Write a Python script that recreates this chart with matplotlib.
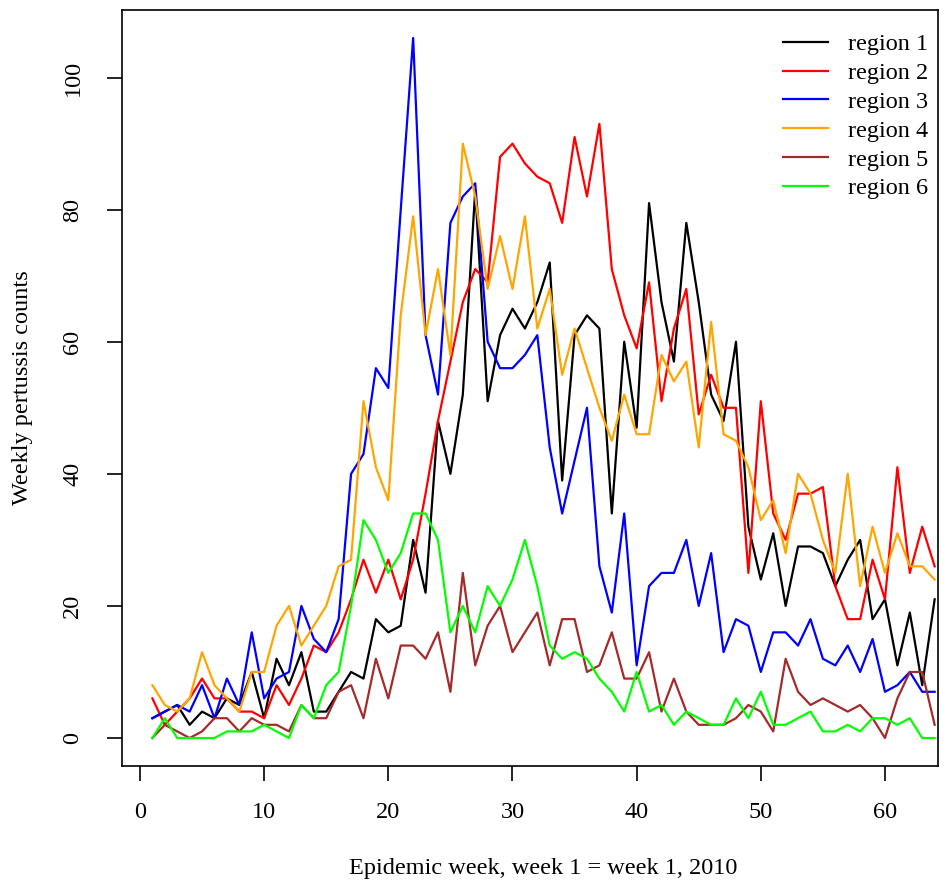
import numpy as np
import matplotlib
matplotlib.use("Agg")
import matplotlib.pyplot as plt

plt.rcParams['font.family'] = ['Liberation Serif', 'DejaVu Serif']

weeks = np.arange(1, 65)

region1 = [3, 4, 5, 2, 4, 3, 6, 5, 10, 3,
           12, 8, 13, 4, 4, 7, 10, 9, 18, 16,
           17, 30, 22, 48, 40, 52, 83, 51, 61, 65,
           62, 66, 72, 39, 61, 64, 62, 34, 60, 47,
           81, 66, 57, 78, 66, 52, 48, 60, 32, 24,
           31, 20, 29, 29, 28, 23, 27, 30, 18, 21,
           11, 19, 8, 21]
region2 = [6, 2, 4, 6, 9, 6, 6, 4, 4, 3,
           8, 5, 9, 14, 13, 16, 21, 27, 22, 27,
           21, 27, 37, 48, 57, 66, 71, 69, 88, 90,
           87, 85, 84, 78, 91, 82, 93, 71, 64, 59,
           69, 51, 62, 68, 49, 55, 50, 50, 25, 51,
           34, 30, 37, 37, 38, 23, 18, 18, 27, 21,
           41, 25, 32, 26]
region3 = [3, 4, 5, 4, 8, 3, 9, 5, 16, 6,
           9, 10, 20, 15, 13, 18, 40, 43, 56, 53,
           80, 106, 61, 52, 78, 82, 84, 60, 56, 56,
           58, 61, 44, 34, 42, 50, 26, 19, 34, 11,
           23, 25, 25, 30, 20, 28, 13, 18, 17, 10,
           16, 16, 14, 18, 12, 11, 14, 10, 15, 7,
           8, 10, 7, 7]
region4 = [8, 5, 4, 6, 13, 8, 6, 4, 10, 10,
           17, 20, 14, 17, 20, 26, 27, 51, 41, 36,
           64, 79, 61, 71, 58, 90, 82, 68, 76, 68,
           79, 62, 68, 55, 62, 56, 50, 45, 52, 46,
           46, 58, 54, 57, 44, 63, 46, 45, 41, 33,
           36, 28, 40, 37, 30, 25, 40, 23, 32, 25,
           31, 26, 26, 24]
region5 = [0, 2, 1, 0, 1, 3, 3, 1, 3, 2,
           2, 1, 5, 3, 3, 7, 8, 3, 12, 6,
           14, 14, 12, 16, 7, 25, 11, 17, 20, 13,
           16, 19, 11, 18, 18, 10, 11, 16, 9, 9,
           13, 4, 9, 4, 2, 2, 2, 3, 5, 4,
           1, 12, 7, 5, 6, 5, 4, 5, 3, 0,
           6, 10, 10, 2]
region6 = [0, 3, 0, 0, 0, 0, 1, 1, 1, 2,
           1, 0, 5, 3, 8, 10, 20, 33, 30, 25,
           28, 34, 34, 30, 16, 20, 16, 23, 20, 24,
           30, 23, 14, 12, 13, 12, 9, 7, 4, 10,
           4, 5, 2, 4, 3, 2, 2, 6, 3, 7,
           2, 2, 3, 4, 1, 1, 2, 1, 3, 3,
           2, 3, 0, 0]

labels = ['region 1', 'region 2', 'region 3', 'region 4', 'region 5', 'region 6']
colors = ['black', '#FF0000', '#0000FF', '#FFA500', '#A52A2A', '#00FF00']
series = [region1, region2, region3, region4, region5, region6]

fig = plt.figure(figsize=(9.53, 8.82), dpi=100)
ax = fig.add_axes([0.128, 0.1315, 0.856, 0.8572])

for s, c, lab in zip(series, colors, labels):
    ax.plot(weeks, s, color=c, lw=1.6, label=lab)

ax.set_xlim(-1.45, 64.25)
ax.set_ylim(-4.24, 110.24)
ax.set_xticks([0, 10, 20, 30, 40, 50, 60])
ax.set_yticks([0, 20, 40, 60, 80, 100])
ax.tick_params(direction='out', length=10.8, width=1.2, labelsize=17.5)
ax.tick_params(axis='x', pad=15)
ax.tick_params(axis='y', pad=17)
for lbl in ax.get_yticklabels():
    lbl.set_rotation(90)
    lbl.set_va('center')
for sp in ax.spines.values():
    sp.set_linewidth(1.2)

ax.set_xlabel('Epidemic week, week 1 = week 1, 2010', fontsize=17.5, va='center')
ax.xaxis.set_label_coords(0.516, -0.135)
ax.set_ylabel('Weekly pertussis counts', fontsize=17.5, va='center')
ax.yaxis.set_label_coords(-0.1225, 0.5)

ax.legend(loc='upper right', bbox_to_anchor=(1.015, 0.998), frameon=False,
          fontsize=17.5, handlelength=1.85, handletextpad=0.82, labelspacing=0.28)

fig.savefig('out.png', dpi=100)
